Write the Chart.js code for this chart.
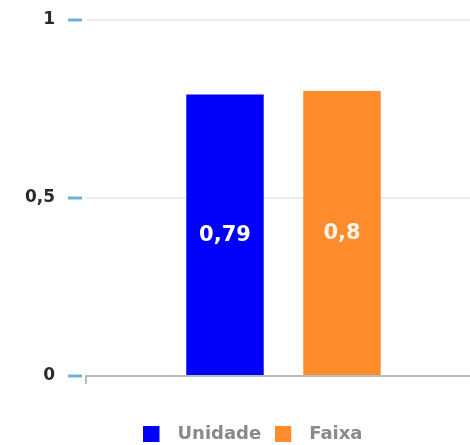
<!DOCTYPE html>
<html>
<head>
<meta charset="utf-8">
<script src="https://cdn.jsdelivr.net/npm/chart.js@4/dist/chart.umd.min.js"></script>
<style>
  html, body { margin: 0; padding: 0; background: #fff; overflow: hidden; }
  #wrap { width: 470px; height: 445px; overflow: hidden; position: relative; }
  canvas { display: block; }
</style>
</head>
<body>
<div id="wrap"><canvas id="c" width="506" height="453"></canvas></div>
<script>
// Chart data
const categories = [''];
const seriesNames = ['Unidade', 'Faixa'];
const unidadeValues = [0.79];
const faixaValues = [0.8];
const yTickLabels = ['0', '0,5', '1'];
const seriesColors = ['#0000fa', '#fe8b2c'];

const FONT = 'DejaVu Sans';

// Legend marker: square swatch on a wider transparent canvas so the text sits further right
function swatch(color) {
  const cv = document.createElement('canvas');
  cv.width = 25; cv.height = 16;
  const g = cv.getContext('2d');
  g.fillStyle = color;
  g.fillRect(0, 0, 16, 16);
  return cv;
}
const swatches = seriesColors.map(swatch);

// Value labels drawn in the middle of each bar
const barValueLabels = {
  id: 'barValueLabels',
  afterDatasetsDraw(chart) {
    const ctx = chart.ctx;
    ctx.save();
    ctx.font = 'bold 21px "' + FONT + '"';
    ctx.textAlign = 'center';
    ctx.textBaseline = 'middle';
    chart.data.datasets.forEach((ds, di) => {
      const meta = chart.getDatasetMeta(di);
      meta.data.forEach((el, i) => {
        const p = el.getProps(['x', 'y', 'base'], true);
        const txt = String(ds.data[i]).replace('.', ',');
        ctx.fillStyle = di === 0 ? '#ffffff' : '#fff6e8';
        ctx.fillText(txt, p.x, (p.y + p.base) / 2 + 1);
      });
    });
    ctx.restore();
  }
};

new Chart(document.getElementById('c'), {
  type: 'bar',
  data: {
    labels: categories,
    datasets: [
      { label: seriesNames[0], data: unidadeValues, backgroundColor: seriesColors[0] },
      { label: seriesNames[1], data: faixaValues, backgroundColor: seriesColors[1] }
    ]
  },
  options: {
    responsive: false,
    animation: false,
    devicePixelRatio: 1,
    categoryPercentage: 0.5924,
    barPercentage: 0.662,
    layout: { padding: { left: 25, right: 25, top: 16, bottom: 0 } },
    scales: {
      x: {
        offset: true,
        grid: {
          display: true,
          drawOnChartArea: false,
          drawTicks: true,
          tickLength: 8,
          color: '#b8b8b8',
          lineWidth: 2
        },
        border: { display: true, color: '#b8b8b8', width: 2 },
        ticks: { display: false },
        afterFit(scale) { scale.height = 35; }
      },
      y: {
        min: 0,
        max: 1,
        border: { display: false },
        grid: {
          color: (c) => (c.index === 0 ? 'rgba(0,0,0,0)' : '#ececec'),
          lineWidth: 2,
          tickColor: '#6eb0da',
          tickWidth: 3,
          tickLength: 18,
          tickBorderDash: [14, 30]
        },
        ticks: {
          stepSize: 0.5,
          padding: 13,
          color: '#2a2a2a',
          font: { family: FONT, size: 17, weight: 'bold', lineHeight: 0.8 },
          callback: (v, i) => yTickLabels[i]
        },
        afterFit(scale) { scale.width = 61; }
      }
    },
    plugins: {
      tooltip: { enabled: false },
      legend: {
        position: 'bottom',
        labels: {
          usePointStyle: true,
          pointStyleWidth: 25,
          boxHeight: 16,
          padding: 14,
          color: '#8a8a8a',
          font: { family: FONT, size: 18, weight: 'bold' },
          generateLabels: (chart) => chart.data.datasets.map((ds, i) => ({
            text: ds.label,
            fillStyle: ds.backgroundColor,
            strokeStyle: ds.backgroundColor,
            lineWidth: 0,
            pointStyle: swatches[i],
            hidden: false,
            datasetIndex: i,
            fontColor: '#8a8a8a'
          }))
        }
      }
    }
  },
  plugins: [barValueLabels]
});
</script>
</body>
</html>
